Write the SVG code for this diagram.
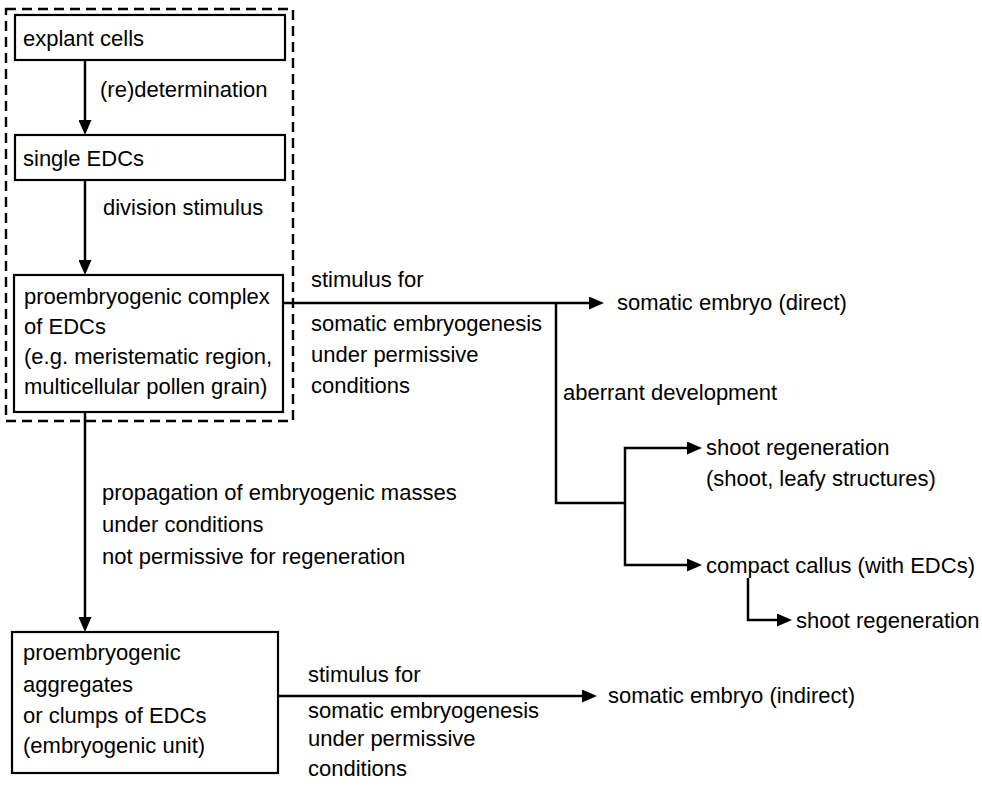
<svg xmlns="http://www.w3.org/2000/svg" width="982" height="797" viewBox="0 0 982 797">
  <style>
    text { font-family: "Liberation Sans", Arial, Helvetica, sans-serif; font-size: 22px; fill: #000; }
    .box { fill: #fff; stroke: #000; stroke-width: 2.2; }
    .dash { fill: none; stroke: #000; stroke-width: 2.4; stroke-dasharray: 10 6; }
    .wire { fill: none; stroke: #000; stroke-width: 2.5; }
    .arrow { marker-end: url(#head); }
  </style>
  <defs>
    <marker id="head" markerWidth="15" markerHeight="13" refX="7" refY="6.5" orient="auto" markerUnits="userSpaceOnUse">
      <path d="M0,0 L15,6.5 L0,13 z" fill="#000"/>
    </marker>
  </defs>
  <rect width="982" height="797" fill="#fff"/>

  <!-- dashed frame around the direct pathway -->
  <rect class="dash" x="6" y="9" width="287" height="412"/>

  <!-- connectors -->
  <g id="connectors">
    <path class="wire arrow" d="M85,60 V127"/>
    <path class="wire arrow" d="M85,180 V267"/>
    <path class="wire arrow" d="M283,303 H596"/>
    <path class="wire" d="M556,303 V503 H625"/>
    <path class="wire arrow" d="M625,503 V448 H694"/>
    <path class="wire arrow" d="M625,503 V565 H694"/>
    <path class="wire arrow" d="M748,578 V620 H784"/>
    <path class="wire arrow" d="M85,412 V624"/>
    <path class="wire arrow" d="M278,696 H589"/>
  </g>

  <!-- edge labels -->
  <g id="labels">
    <text x="100" y="97">(re)determination</text>
    <text x="103" y="215">division stimulus</text>
    <text x="311" y="287">stimulus for</text>
    <text x="311" y="331">somatic embryogenesis</text>
    <text x="311" y="362">under permissive</text>
    <text x="311" y="393">conditions</text>
    <text x="563" y="400">aberrant development</text>
    <text x="102" y="500">propagation of embryogenic masses</text>
    <text x="102" y="532">under conditions</text>
    <text x="102" y="564">not permissive for regeneration</text>
    <text x="308" y="682">stimulus for</text>
    <text x="308" y="718">somatic embryogenesis</text>
    <text x="308" y="746">under permissive</text>
    <text x="308" y="776">conditions</text>
  </g>

  <g id="explant-cells">
    <rect class="box" x="15" y="15" width="270" height="45"/>
    <text x="23" y="46">explant cells</text>
  </g>

  <g id="single-edcs">
    <rect class="box" x="15" y="135" width="270" height="45"/>
    <text x="23" y="166">single EDCs</text>
  </g>

  <g id="proembryogenic-complex">
    <rect class="box" x="14" y="275" width="269" height="137"/>
    <text x="24" y="304">proembryogenic complex</text>
    <text x="24" y="334">of EDCs</text>
    <text x="24" y="364">(e.g. meristematic region,</text>
    <text x="24" y="394">multicellular pollen grain)</text>
  </g>

  <g id="somatic-embryo-direct">
    <text x="617" y="310">somatic embryo (direct)</text>
  </g>

  <g id="shoot-regeneration-1">
    <text x="706" y="455">shoot regeneration</text>
    <text x="706" y="486">(shoot, leafy structures)</text>
  </g>

  <g id="compact-callus">
    <text x="706" y="573">compact callus (with EDCs)</text>
  </g>

  <g id="shoot-regeneration-2">
    <text x="796" y="628">shoot regeneration</text>
  </g>

  <g id="proembryogenic-aggregates">
    <rect class="box" x="12" y="632" width="266" height="141"/>
    <text x="23" y="660">proembryogenic</text>
    <text x="23" y="692">aggregates</text>
    <text x="23" y="723">or clumps of EDCs</text>
    <text x="23" y="753">(embryogenic unit)</text>
  </g>

  <g id="somatic-embryo-indirect">
    <text x="608" y="703">somatic embryo (indirect)</text>
  </g>
</svg>
